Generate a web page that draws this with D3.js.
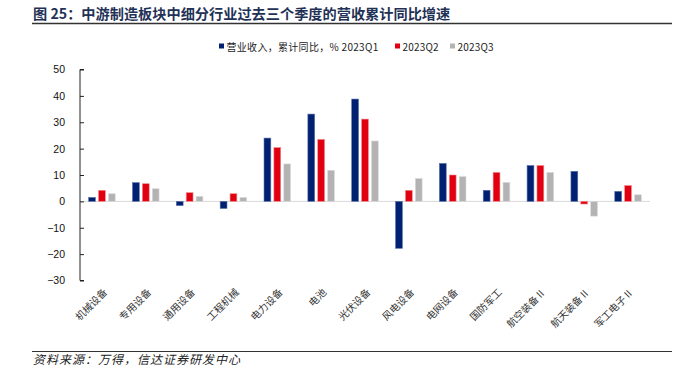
<!DOCTYPE html>
<html><head><meta charset="utf-8">
<script src="https://cdn.jsdelivr.net/npm/d3@7"></script>
<style>
body{margin:0;background:#fff;}
svg{display:block;}
</style></head>
<body>
<svg id="c" width="681" height="382"></svg>
<script>
const categories = ["机械设备","专用设备","通用设备","工程机械","电力设备","电池","光伏设备","风电设备","电网设备","国防军工","航空装备Ⅱ","航天装备Ⅱ","军工电子Ⅱ"];
const legendLabels = ["营业收入，累计同比，% 2023Q1","2023Q2","2023Q3"];
const q1 = [1.5, 7.1, -1.6, -2.7, 24.0, 33.1, 38.8, -17.8, 14.4, 4.2, 13.6, 11.4, 3.8];
const q2 = [4.2, 6.7, 3.3, 2.9, 20.4, 23.5, 31.2, 4.2, 10.0, 11.0, 13.6, -1.0, 6.0];
const q3 = [2.9, 4.8, 1.9, 1.5, 14.2, 11.8, 22.9, 8.7, 9.4, 7.2, 11.0, -5.6, 2.5];
const yTicks = [-30,-20,-10,0,10,20,30,40,50];
const titleText = "图 25：中游制造板块中细分行业过去三个季度的营收累计同比增速";
const sourceText = "资料来源：万得，信达证券研发中心";

const colors = ["#002072","#e0000f","#b3b3b3"];
const strokes = ["#5a73a8","#f08a90","#dcdcdc"];
const values = [q1,q2,q3];

const svg = d3.select("#c");
const L = 80, R = 650, T = 69.5, B = 280.5;

// title
svg.append("text").attr("x",33).attr("y",19)
  .attr("font-family","'Noto Sans CJK SC', sans-serif").attr("font-weight","bold")
  .attr("font-size",14.2).attr("fill","#1f3256").text(titleText);
svg.append("line").attr("x1",32).attr("x2",672).attr("y1",23.5).attr("y2",23.5)
  .attr("stroke","#333").attr("stroke-width",1.3);

// legend
const lg = svg.append("g").attr("font-family","'Noto Sans CJK SC', 'Liberation Sans', sans-serif").attr("font-size",10).attr("fill","#222");
const legX = [219, 395, 450];
legendLabels.forEach((t,i)=>{
  lg.append("rect").attr("x",legX[i]).attr("y",43.5).attr("width",5).attr("height",5).attr("fill",colors[i]);
  lg.append("text").attr("x",legX[i]+7.5).attr("y",50.5).attr("letter-spacing",i===0?0.3:0.2).text(t);
});

const y = d3.scaleLinear().domain([-30,50]).range([B,T]);
const x = d3.scaleBand().domain(categories).range([L,R]).paddingInner(0.38).paddingOuter(0.19);
const xs = d3.scaleBand().domain(d3.range(3)).range([0,x.bandwidth()]).paddingInner(0.25);

// zero line
svg.append("line").attr("x1",L).attr("x2",R).attr("y1",y(0)).attr("y2",y(0))
  .attr("stroke","#d9d9d9").attr("stroke-width",1);

// bars
values.forEach((vals,si)=>{
  svg.append("g").selectAll("rect").data(vals).join("rect")
    .attr("x",(d,i)=>x(categories[i])+xs(si)+0.3)
    .attr("width",xs.bandwidth()-0.6)
    .attr("y",d=>y(Math.max(0,d)))
    .attr("height",d=>Math.abs(y(d)-y(0)))
    .attr("fill",colors[si]).attr("stroke",strokes[si]).attr("stroke-width",0.6);
});

// y axis
const ya = svg.append("g").attr("transform",`translate(${L},0)`)
  .call(d3.axisRight(y).tickValues(yTicks).tickSize(4).tickFormat(d3.format("d")));
ya.select(".domain").attr("stroke","#222").attr("d",`M4,${B}H0V${T}H4`);
ya.selectAll(".tick line").attr("stroke","#222");
ya.selectAll(".tick text").attr("x",-15).attr("text-anchor","end")
  .attr("font-family","'Liberation Sans', Arial, sans-serif").attr("font-size",10.5).attr("fill","#111");

// x labels
const xl = svg.append("g").attr("font-family","'Noto Sans CJK SC', sans-serif").attr("font-size",10).attr("fill","#333");
categories.forEach(c=>{
  const cx = x(c)+x.bandwidth()/2 + 6;
  const cy = 293;
  xl.append("text").attr("transform",`translate(${cx},${cy}) rotate(-45)`)
    .attr("text-anchor","end").text(c);
});

// source
svg.append("line").attr("x1",32).attr("x2",672).attr("y1",351.5).attr("y2",351.5)
  .attr("stroke","#333").attr("stroke-width",1);
svg.append("text").attr("x",33).attr("y",364)
  .attr("font-family","'Noto Sans CJK SC', sans-serif").attr("font-style","italic")
  .attr("font-size",12).attr("letter-spacing",1).attr("fill","#222").text(sourceText);
</script>
</body></html>
